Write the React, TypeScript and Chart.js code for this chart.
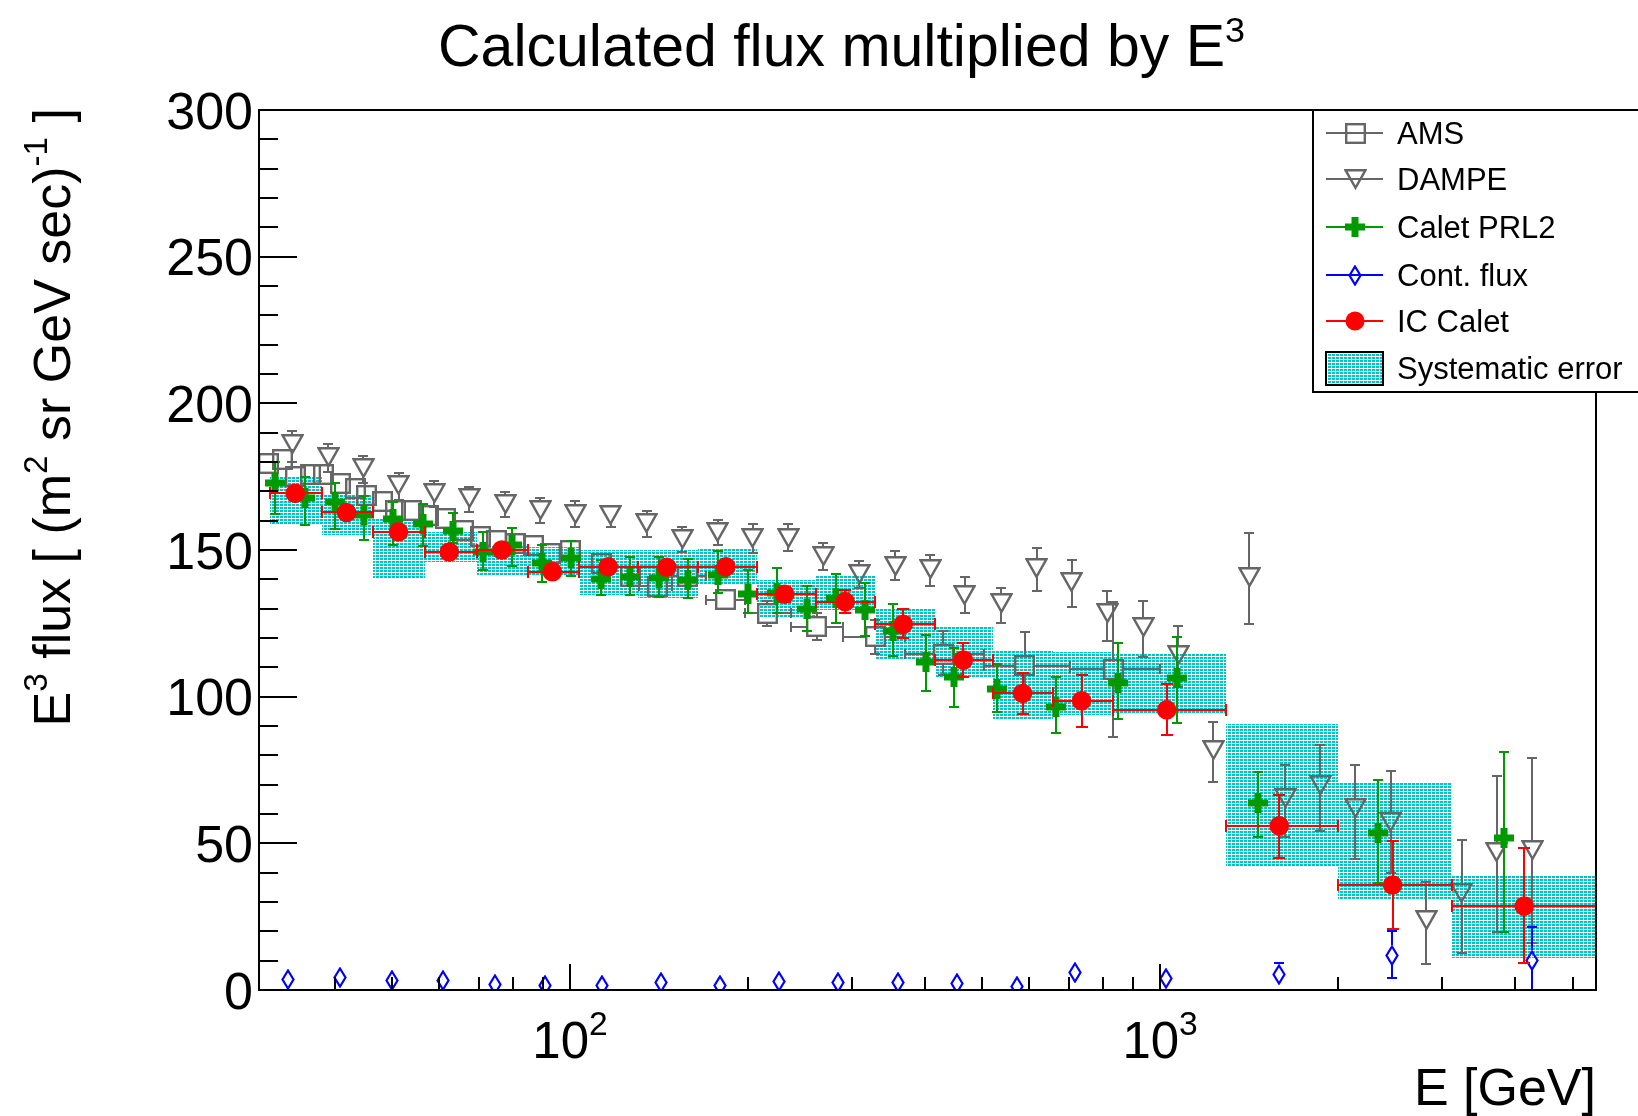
import React, { useEffect, useRef } from 'react';
import { Chart, registerables } from 'chart.js';

Chart.register(...registerables);

const FONT = '"Liberation Sans", Arial, Helvetica, sans-serif';

// ---- axis ranges and ticks ----
const E_MIN = 29.7;
const E_MAX = 5480;
const FLUX_MIN = 0;
const FLUX_MAX = 300;

const yTickValues = [0, 50, 100, 150, 200, 250, 300];
const yTickLabels = ['0', '50', '100', '150', '200', '250', '300'];
const xMajorTicks = [100, 1000];
const xMajorExponents = ['2', '3'];
const xMinorTicks = [40, 50, 60, 70, 80, 90, 200, 300, 400, 500, 600, 700, 800, 900, 2000, 3000, 4000, 5000];

// ---- AMS ----
const amsE = [30.8, 32.5, 34.2, 36.3, 38.2, 40.8, 43.2, 45.2, 48.0, 50.5, 53.9, 57.5, 61.4, 65.9, 70.4, 75.1, 80.7, 86.7, 92.5, 100, 113, 126.5, 140.4, 158, 183.3, 216, 262, 329, 429, 590, 833];
const amsFlux = [179.5, 180.7, 175.0, 175.6, 175.6, 172.7, 171.0, 168.7, 166.5, 163.6, 163.6, 161.9, 160.8, 156.8, 154.5, 153.4, 152.3, 151.7, 148.9, 150.0, 145.5, 141.0, 137.7, 141.0, 133.0, 128.4, 123.9, 120.4, 114.5, 110.5, 109.4];
const amsLow = [177.5, 178.7, 173.0, 173.6, 173.6, 170.7, 169.0, 166.7, 164.5, 161.6, 161.6, 159.9, 158.8, 154.8, 152.5, 151.4, 150.3, 149.7, 146.9, 148.0, 143.3, 138.7, 135.3, 138.5, 129.5, 124.1, 119.3, 114.5, 107.5, 98.8, 86.4];
const amsHigh = [181.5, 182.7, 177.0, 177.6, 177.6, 174.7, 173.0, 170.7, 168.5, 165.6, 165.6, 163.9, 162.8, 158.8, 156.5, 155.4, 154.3, 153.7, 150.9, 152.0, 147.7, 143.3, 140.1, 143.5, 136.5, 132.7, 128.5, 126.3, 122.5, 122.2, 132.4];
const amsELow = [30.0, 31.7, 33.4, 35.2, 37.3, 39.3, 42.1, 44.2, 46.6, 49.3, 52.2, 55.7, 59.4, 63.6, 68.1, 72.7, 77.9, 83.6, 89.8, 97, 109, 122, 131, 149, 170, 198, 237, 290, 369, 502, 704];
const amsEHigh = [31.7, 33.4, 35.2, 37.3, 39.3, 42.1, 44.2, 46.6, 49.3, 52.2, 55.7, 59.4, 63.6, 68.1, 72.7, 77.9, 83.6, 89.6, 95.5, 103, 117, 131, 149, 170, 198, 237, 290, 369, 502, 704, 1000];

// ---- DAMPE ----
const dampeE = [33.8, 38.9, 44.6, 51.2, 58.8, 67.5, 77.6, 89.0, 102, 117.2, 134.9, 155, 178, 204, 234.4, 268.8, 309, 355.5, 407.5, 467, 537.6, 618, 708.6, 814, 937, 1074, 1231, 1415, 1629, 1867, 2140, 2460, 2824, 3246, 3722, 4276];
const dampeFlux = [186.3, 181.8, 177.9, 172.0, 169.6, 167.7, 165.6, 163.6, 162.3, 161.9, 159.3, 153.7, 156.0, 154.2, 154.2, 147.8, 141.8, 144.5, 143.5, 134.7, 132.1, 143.8, 139.2, 128.4, 123.9, 114.2, 81.8, 140.9, 65.3, 69.9, 61.9, 57.4, 23.9, 33.0, 47.2, 47.7];
const dampeLow = [180.1, 176.7, 172.7, 167.0, 164.8, 163.0, 161.1, 159.3, 158.0, 158.0, 154.5, 149.4, 151.7, 148.9, 149.5, 143.2, 137.0, 139.8, 137.7, 128.6, 125.0, 136.0, 130.7, 119.1, 113.6, 103.4, 71.0, 124.8, 52.3, 54.2, 44.7, 40.0, 8.8, 12.7, 19.9, 16.1];
const dampeHigh = [190.6, 186.0, 182.0, 176.1, 173.5, 171.4, 169.7, 167.6, 166.7, 165.0, 163.3, 157.9, 160.2, 158.7, 158.7, 152.3, 146.2, 149.8, 148.3, 140.9, 137.2, 150.6, 146.6, 136.1, 132.6, 124.1, 91.5, 155.7, 76.7, 83.5, 76.7, 74.7, 36.9, 51.1, 73.0, 79.0];

// ---- CALET PRL2 ----
const prlE = [31.6, 35.6, 40.0, 44.8, 50.2, 56.3, 63.2, 71.1, 79.6, 89.5, 100.4, 112.8, 126.4, 141.6, 158.6, 178.4, 200, 224, 252.5, 282.4, 316, 353, 401, 448, 530, 667, 847, 1067, 1468, 2344, 3828];
const prlFlux = [172.7, 167.6, 166.3, 161.9, 160.4, 159.0, 156.4, 149.2, 151.8, 145.6, 147.2, 140.0, 140.9, 140.3, 139.8, 141.6, 135.0, 135.5, 129.8, 133.6, 129.4, 122.5, 111.9, 106.6, 102.5, 96.6, 104.6, 106.3, 63.9, 53.4, 51.9];
const prlLow = [162.4, 158.4, 157.0, 153.4, 151.7, 151.5, 152.4, 143.2, 144.6, 139.2, 141.0, 134.5, 134.5, 133.9, 133.5, 135.2, 128.4, 128.4, 122.5, 125.1, 120.7, 113.9, 102.0, 96.6, 94.9, 87.5, 92.4, 91.1, 52.1, 36.6, 19.7];
const prlHigh = [179.9, 174.9, 172.9, 168.3, 166.5, 165.7, 162.7, 156.3, 157.6, 151.7, 153.2, 146.6, 147.6, 147.5, 147.0, 149.8, 143.2, 143.7, 137.7, 141.8, 138.6, 131.7, 121.0, 116.5, 111.1, 106.8, 118.4, 120.4, 74.2, 71.6, 81.2];

// ---- contamination flux ----
const contE = [33.3, 40.7, 49.9, 60.9, 74.5, 90.7, 113.1, 142.6, 179.5, 226.3, 284.9, 359, 452, 571, 717.6, 1023, 1590, 2473, 4265];
const contFlux = [3.75, 4.3, 3.4, 3.07, 1.93, 1.47, 1.7, 2.6, 1.6, 2.8, 2.4, 2.5, 2.3, 1.1, 6.0, 4.0, 5.45, 11.9, 10.2];
const contLow = [3.0, 3.5, 2.6, 2.3, 1.1, 0.6, 0.9, 1.8, 0.8, 2.0, 1.6, 1.7, 1.5, 0.3, 4.5, 2.5, 1.9, 4.0, 0.0];
const contHigh = [4.5, 5.1, 4.2, 3.9, 2.8, 2.3, 2.5, 3.4, 2.4, 3.6, 3.2, 3.3, 3.1, 1.9, 7.5, 5.5, 9.1, 20.0, 21.4];

// ---- IC CALET ----
const icE = [34.2, 41.8, 51.2, 62.4, 76.6, 93.3, 116, 145.9, 183.7, 231, 292.5, 367, 464, 584.6, 736, 1026, 1592, 2477, 4141];
const icFlux = [169.3, 162.8, 156.2, 149.3, 150.0, 142.6, 144.3, 144.1, 144.3, 134.9, 132.4, 124.7, 112.5, 101.1, 98.6, 95.5, 56.0, 35.8, 28.6];
const icLow = [167.5, 161.0, 154.5, 147.5, 148.2, 140.8, 142.4, 142.2, 142.4, 132.4, 128.4, 119.9, 106.6, 94.1, 89.6, 86.8, 45.1, 20.7, 9.1];
const icHigh = [171.1, 164.6, 158.0, 151.1, 151.8, 144.4, 146.2, 146.0, 146.2, 137.4, 136.4, 129.8, 118.4, 108.0, 107.4, 104.2, 66.5, 50.8, 48.3];
const icELow = [31.0, 37.95, 46.4, 56.8, 69.5, 85.0, 103.7, 130.6, 165.0, 207.2, 261.2, 328.7, 415.6, 521.9, 659.4, 833.4, 1293, 2005, 3121];
const icEHigh = [37.95, 46.4, 56.8, 69.5, 85.0, 103.7, 130.6, 165.0, 207.2, 261.2, 328.7, 415.6, 521.9, 659.4, 833.4, 1293, 2005, 3121, 5480];

// ---- systematic error band per IC CALET bin ----
const sysLow = [159, 155, 140, 146, 141, 141, 134.7, 133.5, 138, 126.7, 129.5, 112.7, 106.8, 92, 93.7, 94.3, 42, 30.7, 10.8];
const sysHigh = [175, 168.7, 161, 156, 151.7, 151.1, 150, 150, 150.2, 139.8, 141.1, 130.1, 124, 115.9, 115.3, 114.5, 90.8, 70.8, 39.2];

const legendNames = ['AMS', 'DAMPE', 'Calet PRL2', 'Cont. flux', 'IC Calet', 'Systematic error'];

const GRAY = '#666666';
const GREEN = '#009900';
const BLUE = '#0000ff';
const RED = '#ff0000';
const CYAN = '#00c4c4';

function makeCanvas(w: number, h: number, draw: (g: CanvasRenderingContext2D) => void) {
  const c = document.createElement('canvas');
  c.width = w;
  c.height = h;
  const g = c.getContext('2d') as CanvasRenderingContext2D;
  draw(g);
  return c;
}

function buildMarkers() {
  const square = makeCanvas(21, 21, (g) => {
    g.strokeStyle = GRAY;
    g.lineWidth = 2.4;
    g.strokeRect(1.2, 1.2, 18.6, 18.6);
  });
  const triangle = makeCanvas(23, 22, (g) => {
    g.strokeStyle = GRAY;
    g.lineWidth = 2.4;
    g.beginPath();
    g.moveTo(1.5, 2.2);
    g.lineTo(21.5, 2.2);
    g.lineTo(11.5, 19.8);
    g.closePath();
    g.stroke();
  });
  const cross = makeCanvas(20, 20, (g) => {
    g.fillStyle = GREEN;
    g.fillRect(6.5, 0, 7, 20);
    g.fillRect(0, 6.5, 20, 7);
  });
  const diamond = makeCanvas(14, 21, (g) => {
    g.strokeStyle = BLUE;
    g.lineWidth = 2.2;
    g.beginPath();
    g.moveTo(7, 1.5);
    g.lineTo(12.5, 10.5);
    g.lineTo(7, 19.5);
    g.lineTo(1.5, 10.5);
    g.closePath();
    g.stroke();
  });
  return { square, triangle, cross, diamond };
}

function hatchPattern(ctx: CanvasRenderingContext2D) {
  const tile = makeCanvas(4, 3, (g) => {
    g.fillStyle = '#ffffff';
    g.fillRect(0, 0, 4, 3);
    g.fillStyle = CYAN;
    g.fillRect(0, 0, 3, 2);
  });
  return ctx.createPattern(tile, 'repeat') as CanvasPattern;
}

type Part = [string, boolean?];

function richText(
  ctx: CanvasRenderingContext2D,
  parts: Part[],
  x: number,
  y: number,
  size: number,
  align: 'left' | 'right' | 'center',
  supScale = 0.64,
  raise = 0.44
) {
  const supSize = size * supScale;
  const widths = parts.map(([t, sup]) => {
    ctx.font = `${sup ? supSize : size}px ${FONT}`;
    return ctx.measureText(t).width;
  });
  const total = widths.reduce((a, b) => a + b, 0);
  let cx = align === 'left' ? x : align === 'right' ? x - total : x - total / 2;
  ctx.textAlign = 'left';
  ctx.textBaseline = 'alphabetic';
  parts.forEach(([t, sup], i) => {
    ctx.font = `${sup ? supSize : size}px ${FONT}`;
    ctx.fillText(t, cx, sup ? y - size * raise : y);
    cx += widths[i];
  });
}

type ErrSpec = {
  e: number[];
  v: number[];
  lo: number[];
  hi: number[];
  eLo?: number[];
  eHi?: number[];
  color: string;
  gapX: number;
  gapY: number;
  cap: number;
};

const errSpecs: ErrSpec[] = [
  { e: icE, v: icFlux, lo: icLow, hi: icHigh, eLo: icELow, eHi: icEHigh, color: RED, gapX: 0, gapY: 0, cap: 6 },
  { e: contE, v: contFlux, lo: contLow, hi: contHigh, color: BLUE, gapX: 7, gapY: 10, cap: 5 },
  { e: prlE, v: prlFlux, lo: prlLow, hi: prlHigh, color: GREEN, gapX: 0, gapY: 0, cap: 5 },
  { e: dampeE, v: dampeFlux, lo: dampeLow, hi: dampeHigh, color: GRAY, gapX: 11, gapY: 9, cap: 5 },
  { e: amsE, v: amsFlux, lo: amsLow, hi: amsHigh, eLo: amsELow, eHi: amsEHigh, color: GRAY, gapX: 10, gapY: 10, cap: 5 },
];

function line(ctx: CanvasRenderingContext2D, x1: number, y1: number, x2: number, y2: number) {
  ctx.beginPath();
  ctx.moveTo(x1, y1);
  ctx.lineTo(x2, y2);
  ctx.stroke();
}

export default function App() {
  const ref = useRef<HTMLCanvasElement | null>(null);

  useEffect(() => {
    document.body.style.margin = '0';
    const canvas = ref.current;
    if (!canvas) return;
    const markers = buildMarkers();

    const plugin = {
      id: 'rootStyle',
      beforeDatasetsDraw(chart: any) {
        const { ctx, chartArea: a, scales } = chart;
        const xs = scales.x;
        const ys = scales.y;
        ctx.save();
        ctx.beginPath();
        ctx.rect(a.left, a.top, a.right - a.left, a.bottom - a.top);
        ctx.clip();
        ctx.fillStyle = hatchPattern(ctx);
        icE.forEach((_, i) => {
          const x1 = Math.round(xs.getPixelForValue(icELow[i]));
          const x2 = Math.round(xs.getPixelForValue(icEHigh[i]));
          const y1 = Math.round(ys.getPixelForValue(sysHigh[i]));
          const y2 = Math.round(ys.getPixelForValue(sysLow[i]));
          ctx.fillRect(x1, y1, x2 - x1, y2 - y1);
        });
        ctx.restore();
        // keep marker images on whole pixels
        ctx.imageSmoothingEnabled = false;
      },
      beforeDatasetDraw(chart: any, args: any) {
        const spec = errSpecs[args.index];
        if (!spec) return;
        const { ctx, chartArea: a, scales } = chart;
        const xs = scales.x;
        const ys = scales.y;
        ctx.save();
        ctx.beginPath();
        ctx.rect(a.left, a.top, a.right - a.left, a.bottom - a.top);
        ctx.clip();
        ctx.strokeStyle = spec.color;
        ctx.lineWidth = 2;
        const c = spec.cap;
        spec.e.forEach((e, i) => {
          const px = Math.round(xs.getPixelForValue(e));
          const py = Math.round(ys.getPixelForValue(spec.v[i]));
          const top = Math.round(ys.getPixelForValue(spec.hi[i]));
          const bot = Math.round(ys.getPixelForValue(spec.lo[i]));
          if (py - top > spec.gapY) {
            line(ctx, px, py - spec.gapY, px, top);
            line(ctx, px - c, top, px + c, top);
          }
          if (bot - py > spec.gapY) {
            line(ctx, px, py + spec.gapY, px, bot);
            line(ctx, px - c, bot, px + c, bot);
          }
          if (spec.eLo && spec.eHi) {
            const left = Math.round(xs.getPixelForValue(spec.eLo[i]));
            const right = Math.round(xs.getPixelForValue(spec.eHi[i]));
            if (px - left > spec.gapX) {
              line(ctx, px - spec.gapX, py, left, py);
              line(ctx, left, py - c, left, py + c);
            }
            if (right - px > spec.gapX) {
              line(ctx, px + spec.gapX, py, right, py);
              line(ctx, right, py - c, right, py + c);
            }
          }
        });
        ctx.restore();
      },
      afterDraw(chart: any) {
        const { ctx, chartArea: a, scales } = chart;
        const xs = scales.x;
        const ys = scales.y;
        ctx.save();
        ctx.strokeStyle = '#000';
        ctx.fillStyle = '#000';
        ctx.lineWidth = 2;
        ctx.strokeRect(a.left, a.top, a.right - a.left, a.bottom - a.top);

        // y ticks (major every 50, minor every 10)
        for (let v = FLUX_MIN + 10; v < FLUX_MAX; v += 10) {
          const py = Math.round(ys.getPixelForValue(v));
          const len = v % 50 === 0 ? 38 : 19;
          line(ctx, a.left, py, a.left + len, py);
        }
        // x ticks
        xMajorTicks.forEach((t) => {
          const px = Math.round(xs.getPixelForValue(t));
          line(ctx, px, a.bottom, px, a.bottom - 26);
        });
        xMinorTicks.forEach((t) => {
          const px = Math.round(xs.getPixelForValue(t));
          line(ctx, px, a.bottom, px, a.bottom - 13);
        });

        // tick labels
        yTickValues.forEach((v, i) => {
          const py = ys.getPixelForValue(v);
          richText(ctx, [[yTickLabels[i]]], a.left - 6, py + 18.5, 52, 'right');
        });
        xMajorTicks.forEach((t, i) => {
          const px = xs.getPixelForValue(t);
          richText(ctx, [['10'], [xMajorExponents[i], true]], px, 1058, 51, 'center', 0.66, 0.46);
        });

        // titles
        richText(ctx, [['Calculated flux multiplied by E'], ['3', true]], 438, 66, 59, 'left', 0.61, 0.41);
        richText(ctx, [['E [GeV]']], a.right, 1105, 52, 'right');
        ctx.save();
        ctx.translate(70, 108);
        ctx.rotate(-Math.PI / 2);
        richText(
          ctx,
          [['E'], ['3', true], [' flux [ (m'], ['2', true], [' sr GeV sec)'], ['-1', true], [' ]']],
          0,
          0,
          52,
          'right'
        );
        ctx.restore();

        // legend
        const lx = 1313;
        const ly0 = 110;
        const ly1 = 392;
        ctx.fillStyle = '#fff';
        ctx.fillRect(lx, ly0, 1640 - lx, ly1 - ly0);
        ctx.strokeStyle = '#000';
        ctx.lineWidth = 2;
        ctx.strokeRect(lx, ly0, 1640 - lx, ly1 - ly0);
        const rows = [133, 179, 227, 275, 321, 368];
        const colors = [GRAY, GRAY, GREEN, BLUE, RED];
        const imgs = [markers.square, markers.triangle, markers.cross, markers.diamond];
        const mx = 1355;
        colors.forEach((col, i) => {
          const ry = rows[i];
          ctx.strokeStyle = col;
          ctx.lineWidth = 2;
          line(ctx, 1326, ry, 1383, ry);
          if (i < 4) {
            const im = imgs[i];
            ctx.drawImage(im, Math.round(mx - im.width / 2), Math.round(ry - im.height / 2));
          } else {
            ctx.fillStyle = RED;
            ctx.beginPath();
            ctx.arc(mx, ry, 9.5, 0, Math.PI * 2);
            ctx.fill();
          }
        });
        ctx.fillStyle = hatchPattern(ctx);
        ctx.fillRect(1326, 352, 57, 33);
        ctx.strokeStyle = '#000';
        ctx.lineWidth = 2;
        ctx.strokeRect(1326, 352, 57, 33);
        ctx.fillStyle = '#000';
        legendNames.forEach((name, i) => {
          richText(ctx, [[name]], 1397, rows[i] + 11, 31, 'left');
        });
        ctx.restore();
      },
    };

    const pts = (e: number[], v: number[]) => e.map((x, i) => ({ x, y: v[i] }));

    const chart = new Chart(canvas, {
      type: 'scatter',
      data: {
        datasets: [
          { label: 'IC Calet', data: pts(icE, icFlux), pointStyle: 'circle', pointRadius: 9.8, backgroundColor: RED, borderColor: RED, borderWidth: 0 },
          { label: 'Cont. flux', data: pts(contE, contFlux), pointStyle: markers.diamond, pointRadius: 10 },
          { label: 'Calet PRL2', data: pts(prlE, prlFlux), pointStyle: markers.cross, pointRadius: 10 },
          { label: 'DAMPE', data: pts(dampeE, dampeFlux), pointStyle: markers.triangle, pointRadius: 10 },
          { label: 'AMS', data: pts(amsE, amsFlux), pointStyle: markers.square, pointRadius: 10 },
        ] as any,
      },
      options: {
        animation: false,
        responsive: false,
        devicePixelRatio: 1,
        events: [],
        layout: { padding: { left: 259, right: 42, top: 110, bottom: 126 } },
        scales: {
          x: { type: 'logarithmic', min: E_MIN, max: E_MAX, bounds: 'data', display: false },
          y: { type: 'linear', min: FLUX_MIN, max: FLUX_MAX, bounds: 'data', display: false },
        },
        plugins: {
          legend: { display: false },
          title: { display: false },
          tooltip: { enabled: false },
        },
      } as any,
      plugins: [plugin],
    });

    return () => chart.destroy();
  }, []);

  return <canvas ref={ref} width={1638} height={1116} style={{ display: 'block' }} />;
}
